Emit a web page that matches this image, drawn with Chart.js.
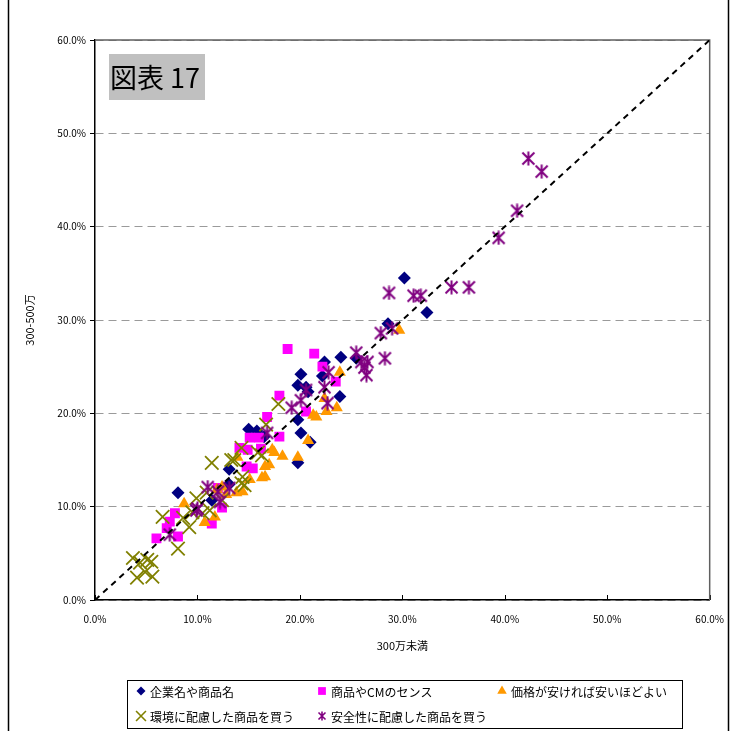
<!DOCTYPE html>
<html>
<head>
<meta charset="utf-8">
<script src="https://cdn.jsdelivr.net/npm/chart.js@4.4.1/dist/chart.umd.min.js"></script>
<style>
  html, body { margin: 0; padding: 0; background: #fff; }
  #wrap { position: relative; width: 737px; height: 731px; }
</style>
</head>
<body>
<div id="wrap"><canvas id="c" width="737" height="731"></canvas></div>
<script>
// Series labels and axis labels
const seriesNames = ['企業名や商品名', '商品やCMのセンス', '価格が安ければ安いほどよい', '環境に配慮した商品を買う', '安全性に配慮した商品を買う'];
const xTitle = '300万未満';
const yTitle = '300-500万';
const chartTag = '図表 17';
const tickValues = [0, 10, 20, 30, 40, 50, 60];

// [300万未満 %, 300-500万 %]
const kigyoMei = [
  [8.1, 11.5], [11.4, 10.7], [13.1, 14.0], [13.1, 12.4], [15.0, 18.3], [15.8, 18.1],
  [19.8, 14.7], [19.8, 19.3], [20.1, 17.9], [21.0, 16.9], [19.8, 23.0], [20.6, 22.8],
  [20.1, 24.2], [22.2, 24.0], [22.4, 25.5], [24.0, 26.0], [23.9, 21.8], [25.5, 25.9],
  [28.6, 29.6], [30.2, 34.5], [32.4, 30.8], [20.8, 22.3], [16.5, 17.5]
];
const cmSense = [
  [18.8, 26.9], [21.4, 26.4], [22.2, 25.0], [23.5, 23.4], [18.0, 21.9], [20.6, 20.2],
  [16.8, 19.6], [18.0, 17.5], [16.0, 17.4], [15.1, 17.4], [14.1, 16.3], [14.9, 16.1],
  [14.8, 14.3], [15.4, 14.1], [12.4, 9.9], [11.4, 8.2], [7.8, 9.3], [7.3, 8.4],
  [7.0, 7.7], [6.0, 6.6], [8.1, 6.8], [12.0, 12.0], [16.2, 16.2]
];
const yasusa = [
  [29.7, 28.9], [23.9, 24.4], [22.4, 21.6], [21.3, 19.8], [21.6, 19.6], [22.6, 20.2],
  [23.6, 20.6], [20.8, 17.1], [19.8, 15.3], [18.3, 15.4], [17.5, 15.8], [17.0, 14.5],
  [16.6, 14.3], [13.9, 15.3], [16.3, 13.1], [15.1, 12.9], [14.4, 11.6], [13.8, 11.5],
  [12.4, 12.1], [11.9, 11.8], [12.8, 11.3], [8.7, 10.3], [10.7, 8.3], [11.7, 8.9],
  [16.6, 13.2], [17.3, 16.1]
];
const kankyo = [
  [3.7, 4.5], [4.4, 4.0], [5.1, 4.3], [5.5, 4.1], [4.1, 2.4], [4.9, 3.0], [5.6, 2.5],
  [8.1, 5.5], [6.6, 8.9], [9.2, 7.8], [9.5, 9.4], [8.6, 8.8], [9.9, 10.9], [10.5, 9.3],
  [11.2, 9.6], [10.9, 11.5], [11.4, 14.7], [13.3, 15.0], [14.3, 12.5], [14.4, 13.2],
  [14.3, 16.3], [15.9, 15.8], [16.3, 15.5], [16.7, 18.8], [17.9, 21.0], [13.6, 15.0],
  [12.4, 10.7], [14.6, 12.3]
];
const anzen = [
  [42.3, 47.3], [43.6, 45.9], [41.2, 41.7], [39.4, 38.8], [36.5, 33.5], [34.8, 33.5],
  [28.7, 32.9], [31.1, 32.6], [31.8, 32.6], [27.9, 28.6], [29.0, 29.1], [25.5, 26.5],
  [26.0, 25.5], [26.6, 25.5], [26.3, 24.9], [26.5, 24.1], [28.3, 25.9], [22.8, 24.4],
  [22.4, 22.8], [20.6, 22.5], [22.7, 21.1], [20.1, 21.4], [19.2, 20.6], [16.8, 17.9],
  [11.0, 12.1], [10.0, 9.8], [12.0, 11.6], [13.1, 12.0], [12.2, 10.5], [7.3, 7.0],
  [9.9, 9.6]
];
const diagonal = [[0, 0], [60, 60]];

const toXY = arr => arr.map(p => ({ x: p[0], y: p[1] }));

// Star marker: an X with a vertical bar
function makeStar(size, color, lw) {
  const cv = document.createElement('canvas');
  cv.width = size; cv.height = size;
  const g = cv.getContext('2d');
  g.strokeStyle = color; g.lineWidth = lw; g.lineCap = 'butt';
  const m = 1.5, e = size - 1.5, c = size / 2;
  g.beginPath();
  g.moveTo(m, m); g.lineTo(e, e);
  g.moveTo(e, m); g.lineTo(m, e);
  g.moveTo(c, 0.5); g.lineTo(c, size - 0.5);
  g.stroke();
  return cv;
}
const starBig = makeStar(15, '#800080', 2);
const starSmall = makeStar(10, '#800080', 1.6);

const FONT = '"Noto Sans CJK JP", "Noto Sans", sans-serif';

const styles = [
  { pointStyle: 'rectRot', radius: 6.5, color: '#000080', border: 0, legendRadius: 4.5 },
  { pointStyle: 'rect', radius: 7, color: '#FF00FF', border: 0, legendRadius: 5.5 },
  { pointStyle: 'triangle', radius: 7, color: '#FF9900', border: 0, legendRadius: 5.5 },
  { pointStyle: 'crossRot', radius: 9.5, color: '#808000', border: 1.8, legendRadius: 7 },
  { pointStyle: starBig, radius: 7, color: '#800080', border: 0, legendStyle: starSmall, legendRadius: 5 }
];
const seriesData = [kigyoMei, cmSense, yasusa, kankyo, anzen];

const datasets = seriesData.map((d, i) => ({
  type: 'scatter',
  label: seriesNames[i],
  data: toXY(d),
  pointStyle: styles[i].pointStyle,
  pointRadius: styles[i].radius,
  pointHoverRadius: styles[i].radius,
  backgroundColor: styles[i].color,
  borderColor: styles[i].color,
  borderWidth: styles[i].border,
  order: 5 - i
}));
datasets.push({
  type: 'line',
  label: 'y=x',
  data: toXY(diagonal),
  borderColor: '#000',
  borderWidth: 2,
  borderDash: [6, 5],
  pointRadius: 0,
  fill: false,
  order: 0
});

// Frame, plot-area border, inside x ticks and tag box
const decor = {
  id: 'decor',
  beforeDatasetsDraw(chart) {
    const { ctx, chartArea: a, scales } = chart;
    ctx.save();
    ctx.strokeStyle = '#000';
    ctx.lineWidth = 1;
    ctx.beginPath();
    tickValues.forEach(v => {
      const px = Math.round(scales.x.getPixelForValue(v)) + 0.5;
      ctx.moveTo(px, a.bottom);
      ctx.lineTo(px, a.bottom - 5);
    });
    ctx.stroke();
    ctx.strokeStyle = '#606060';
    ctx.lineWidth = 1.5;
    ctx.beginPath();
    ctx.moveTo(a.left, a.top);
    ctx.lineTo(a.right, a.top);
    ctx.lineTo(a.right, a.bottom);
    ctx.stroke();
    ctx.restore();
  },
  afterDraw(chart) {
    const { ctx } = chart;
    ctx.save();
    // outer frame
    ctx.strokeStyle = '#000';
    ctx.lineWidth = 1.5;
    ctx.beginPath();
    ctx.moveTo(8.5, 0); ctx.lineTo(8.5, 731);
    ctx.moveTo(728.5, 0); ctx.lineTo(728.5, 731);
    ctx.stroke();

    // tag box
    ctx.fillStyle = '#c0c0c0';
    ctx.fillRect(109, 54, 96, 46);
    ctx.fillStyle = '#000';
    ctx.font = '27px ' + FONT;
    ctx.textBaseline = 'middle';
    ctx.textAlign = 'left';
    ctx.fillText(chartTag, 110, 78);
    ctx.restore();
  }
};

// Boxed legend: markers and labels in three columns
const legendPlugin = {
  id: 'legendBox',
  afterDraw(chart) {
    const { ctx } = chart;
    ctx.save();
    ctx.strokeStyle = '#000';
    ctx.lineWidth = 1;
    ctx.strokeRect(127.5, 680.5, 555, 48);
    const pos = [[141, 691], [322, 691], [502, 691], [141, 716], [322, 716]];
    for (let i = 0; i < 5; i++) {
      const s = styles[i];
      ctx.fillStyle = s.color;
      ctx.strokeStyle = s.color;
      ctx.lineWidth = s.border ? 1.6 : 1;
      Chart.helpers.drawPoint(ctx, {
        pointStyle: s.legendStyle || s.pointStyle,
        radius: s.legendRadius,
        rotation: 0,
        borderWidth: s.border ? 1.6 : 0
      }, pos[i][0], pos[i][1]);
      ctx.fillStyle = '#000';
      ctx.font = '12px ' + FONT;
      ctx.textAlign = 'left';
      ctx.textBaseline = 'middle';
      ctx.fillText(seriesNames[i], pos[i][0] + 9, pos[i][1] + 1);
    }
    ctx.restore();
  }
};

new Chart(document.getElementById('c'), {
  type: 'scatter',
  data: { datasets },
  options: {
    responsive: false,
    animation: false,
    events: [],
    layout: { padding: { top: 40, right: 25, bottom: 79, left: 0 } },
    plugins: {
      legend: { display: false },
      tooltip: { enabled: false }
    },
    scales: {
      x: {
        type: 'linear',
        min: 0, max: 60,
        afterFit(s) { s.height = 52; },
        afterBuildTicks(s) { s.ticks = tickValues.map(v => ({ value: v })); },
        ticks: {
          padding: 13,
          color: '#000',
          font: { size: 10, family: FONT },
          callback: v => v.toFixed(1) + '%',
          maxRotation: 0
        },
        grid: { display: true, drawOnChartArea: false, drawTicks: false },
        border: { display: true, color: '#000', width: 1.5 },
        title: {
          display: true, text: xTitle, color: '#000',
          font: { size: 11, family: FONT }, padding: { top: 0, bottom: 0 }
        }
      },
      y: {
        type: 'linear',
        min: 0, max: 60,
        afterFit(s) { s.width = 95; },
        afterBuildTicks(s) { s.ticks = tickValues.map(v => ({ value: v })); },
        ticks: {
          padding: 4,
          color: '#000',
          font: { size: 10, family: FONT },
          callback: v => v.toFixed(1) + '%'
        },
        grid: {
          display: true,
          color: '#9a9a9a',
          lineWidth: 1,
          drawTicks: true,
          tickLength: 5,
          tickColor: '#000',
          tickBorderDash: [],
          tickWidth: 1
        },
        border: { display: true, color: '#000', width: 1.5, dash: [8, 5] },
        title: {
          display: true, text: yTitle, color: '#000',
          font: { size: 11, family: FONT }, padding: { top: 23, bottom: 0 }
        }
      }
    }
  },
  plugins: [decor, legendPlugin]
});
</script>
</body>
</html>
